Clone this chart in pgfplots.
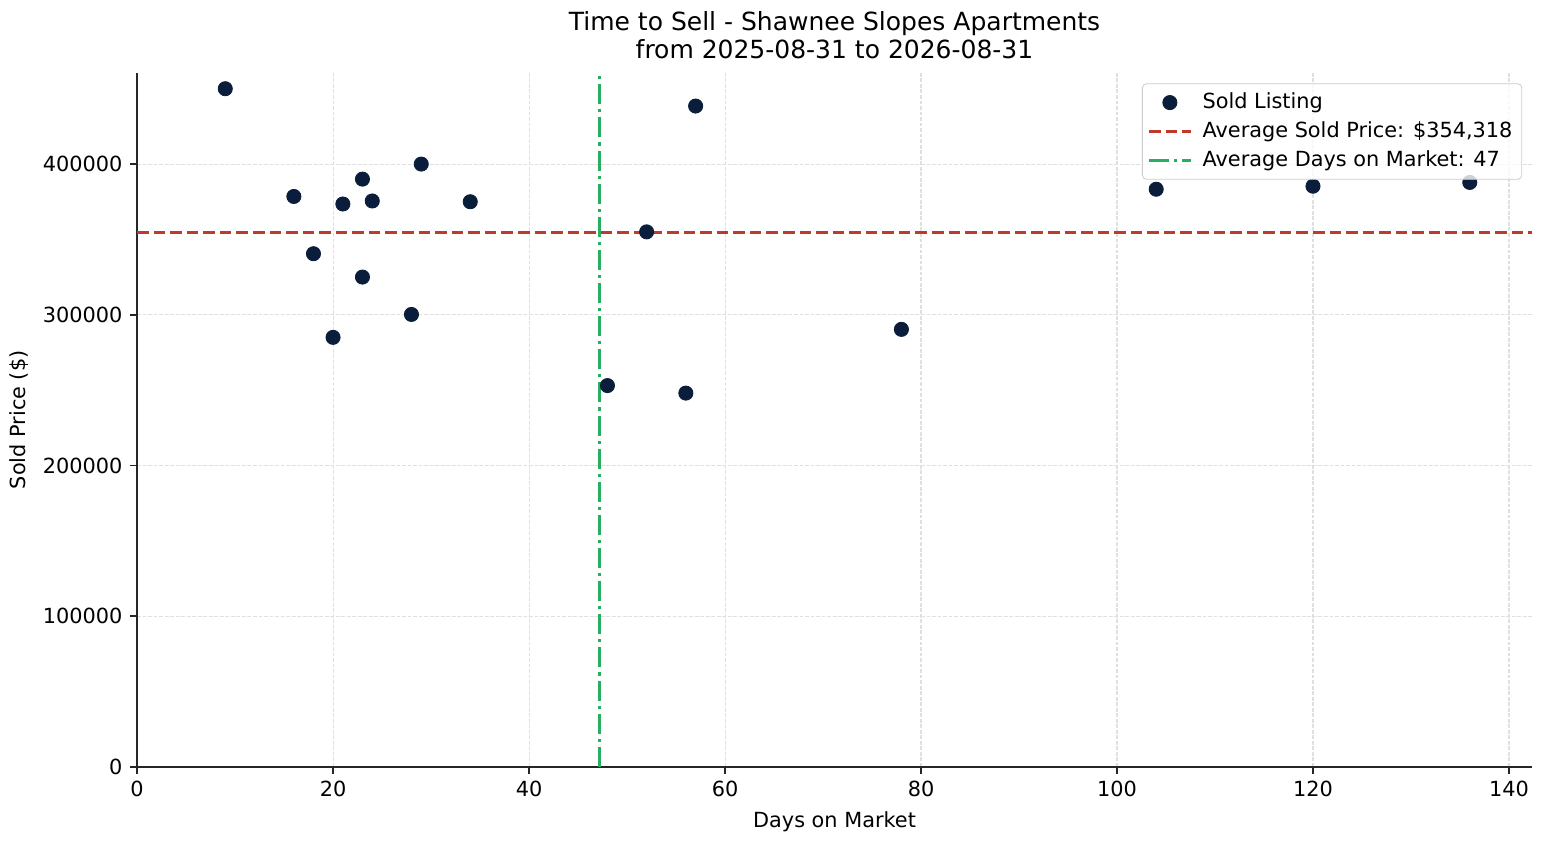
\documentclass[border=0pt]{standalone}
\usepackage{pgfplots}
\pgfplotsset{compat=1.18}
\usepackage{fontspec}
\setmainfont{DejaVu Sans}
\definecolor{navy}{HTML}{0A1E3C}
\definecolor{avgred}{HTML}{C0392B}
\definecolor{avggreen}{HTML}{27AE60}
\pgfplotsset{
    dotlegend/.style={legend image code/.code={\draw[##1, fill opacity=1] plot coordinates {(0.35cm,0cm)};}},
    linelegend/.style={legend image code/.code={\draw[##1] (0cm,0cm) -- (0.7cm,0cm);}},
}
\begin{document}
\begin{tikzpicture}
\begin{axis}[
    name=ax,
    width=669.6pt, height=333.1pt,
    scale only axis,
    title={Time to Sell - Shawnee Slopes Apartments\\from 2025-08-31 to 2026-08-31},
    title style={align=center, font=\fontsize{12}{13.6}\selectfont, yshift=-3pt},
    xlabel={Days on Market},
    ylabel={Sold Price (\$)},
    label style={font=\fontsize{10}{12}\selectfont},
    ticklabel style={font=\fontsize{10}{12}\selectfont},
    xmin=0, xmax=142.35,
    ymin=0, ymax=460500,
    xtick={0,20,40,60,80,100,120,140},
    ytick={0,100000,200000,300000,400000},
    scaled y ticks=false,
    /pgf/number format/fixed,
    /pgf/number format/1000 sep={},
    /pgf/number format/assume math mode=true,
    axis x line*=bottom, axis y line*=left,
    axis line style={-, line width=0.8pt, black!85},
    tick align=outside,
    major tick length=3.5pt,
    tick style={line width=0.8pt, black!85},
    grid=major,
    grid style={line width=0.5pt, black!12, dash pattern=on 1.85pt off 0.8pt},
    legend style={at={(0.993,0.985)}, anchor=north east, draw=black!20,
        fill=white, fill opacity=0.8, text opacity=1, draw opacity=1,
        rounded corners=2pt, font=\fontsize{10}{12}\selectfont,
        row sep=0.8pt, column sep=3pt, inner sep=2.5pt},
    legend cell align=left,
    clip=false,
]
\addplot[only marks, mark=*, mark size=3.4pt, navy, mark options={draw=navy, fill=navy, fill opacity=1}, dotlegend]
    coordinates {
    (9,450000)(16,378500)(18,340500)(20,285000)(21,373500)(23,390000)(23,325000)
    (24,375500)(28,300200)(29,400000)(34,375000)(48,253000)(52,355000)(56,248000)
    (57,438500)(78,290300)(104,383300)(120,385300)(136,387800)
    };
\addlegendentry{Sold Listing}
\addplot[avgred, line width=1.5pt, dash pattern=on 5.55pt off 2.4pt, linelegend]
    coordinates {(0,354318)(142.35,354318)};
\addlegendentry{Average Sold Price: \$354,318}
\addplot[avggreen, line width=1.5pt, dash pattern=on 9.6pt off 2.4pt on 1.5pt off 2.4pt, linelegend]
    coordinates {(47.16,0)(47.16,460500)};
\addlegendentry{Average Days on Market: 47}
\end{axis}
\pgfresetboundingbox
\path[use as bounding box] ([xshift=-65.8pt,yshift=-37.4pt]ax.south west) rectangle ([xshift=7.2pt,yshift=35pt]ax.north east);
\end{tikzpicture}
\end{document}
